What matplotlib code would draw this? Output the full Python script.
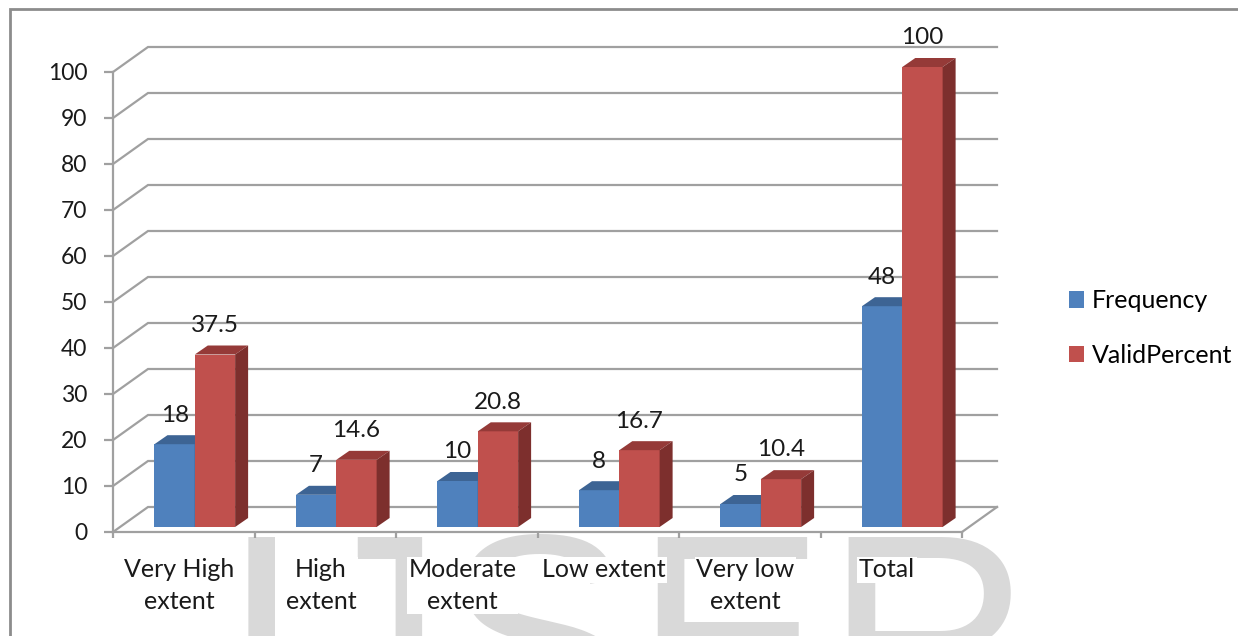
import matplotlib
matplotlib.use("Agg")
import matplotlib.pyplot as plt
from matplotlib.patches import Polygon, Rectangle, Patch
import numpy as np

plt.rcParams['font.family'] = ['Lato', 'DejaVu Sans']

# data
categories = ["Very High\nextent", "High\nextent", "Moderate\nextent",
              "Low extent", "Very low\nextent", "Total"]
frequency = [18, 7, 10, 8, 5, 48]
valid_percent = [37.5, 14.6, 20.8, 16.7, 10.4, 100]
freq_labels = ["18", "7", "10", "8", "5", "48"]
pct_labels = ["37.5", "14.6", "20.8", "16.7", "10.4", "100"]

W, H = 1238, 636
fig = plt.figure(figsize=(W / 100, H / 100), dpi=100)

# plot area = front plane of the 3d box, in pixels
x0_px, x1_px = 113, 962
y0_px, y1_px = 532, 72
ax = fig.add_axes([x0_px / W, 1 - y0_px / H, (x1_px - x0_px) / W, (y0_px - y1_px) / H])
ax.set_xlim(0, 6)
ax.set_ylim(0, 100)
ax.set_facecolor('white')

px_x = 6 / (x1_px - x0_px)      # category units per pixel
px_y = 100 / (y0_px - y1_px)    # value units per pixel

# back wall offset
DX, DY = 35 * px_x, 25 * px_y
grid_col = '#a0a0a0'
for v in range(0, 101, 10):
    ax.plot([0, DX, 6 + DX], [v, v + DY, v + DY], color=grid_col, lw=1.6,
            clip_on=False, zorder=1, solid_joinstyle='miter')
ax.plot([6, 6 + DX], [0, DY], color=grid_col, lw=1.6, clip_on=False, zorder=1)

# bars with fake 3d faces
base = 5 * px_y
bw = 0.285
ddx, ddy = 13 * px_x, 9 * px_y
series = [
    (frequency, 0.293, '#4f81bd', '#3d6494', '#2f4f78', freq_labels),
    (valid_percent, 0.578, '#c0504d', '#953a38', '#7d2f2d', pct_labels),
]
for vals, off, front, top, side, labs in series:
    xs = np.arange(len(vals)) + off
    ax.bar(xs, vals, width=bw, bottom=base, align='edge', color=front,
           zorder=3, clip_on=False, linewidth=0)
    for x, v, lab in zip(xs, vals, labs):
        yt = base + v
        ax.add_patch(Polygon([(x, yt), (x + bw, yt), (x + bw + ddx, yt + ddy), (x + ddx, yt + ddy)],
                             closed=True, facecolor=top, edgecolor='none', zorder=3, clip_on=False))
        ax.add_patch(Polygon([(x + bw, base), (x + bw + ddx, base + ddy), (x + bw + ddx, yt + ddy), (x + bw, yt)],
                             closed=True, facecolor=side, edgecolor='none', zorder=3, clip_on=False))
        ax.annotate(lab, (x + bw / 2, yt), xytext=(0, 21), textcoords='offset points',
                    ha='center', va='center', fontsize=17.5, color='#1a1a1a', zorder=5,
                    annotation_clip=False)

# axes styling
for s in ['top', 'right']:
    ax.spines[s].set_visible(False)
for s in ['left', 'bottom']:
    ax.spines[s].set_color(grid_col)
    ax.spines[s].set_linewidth(1.6)
ax.set_yticks(range(0, 101, 10))
ax.tick_params(axis='y', length=6.5, width=1.6, color=grid_col, pad=12,
               labelsize=16.5, labelcolor='#1a1a1a')
ax.set_xticks(range(0, 7))
ax.set_xticklabels([])
ax.tick_params(axis='x', which='major', length=4.5, width=1.6, color=grid_col)
ax.set_xticks(np.arange(6) + 0.5 - 0.03, categories, minor=True)
ax.tick_params(axis='x', which='minor', length=0, pad=19, labelsize=18, labelcolor='#1a1a1a')
for lbl in ax.get_xticklabels(minor=True):
    lbl.set_verticalalignment('top')
    lbl.set_linespacing(1.45)
    lbl.set_bbox(dict(facecolor='white', edgecolor='none', pad=1))

# legend
handles = [Patch(facecolor='#4f81bd', label='Frequency'),
           Patch(facecolor='#c0504d', label='ValidPercent')]
fig.legend(handles=handles, loc='center left', bbox_to_anchor=(1056 / W, 1 - 328 / H),
           frameon=False, fontsize=18, handlelength=0.62, handleheight=0.62,
           handletextpad=0.3, labelspacing=1.25, borderpad=0)

# outer chart frame
fig.patches.append(Rectangle((10 / W, -0.1), 1.1, 1 - 9 / H + 0.1, transform=fig.transFigure,
                             fill=False, edgecolor='#8c8c8c', lw=2, zorder=0))

# watermark behind the chart
fig.text(222 / W, 1 - 734 / H, "IJSER", fontsize=206, color='#d9d9d9',
         family='Liberation Sans', ha='left', va='baseline', zorder=-1)

fig.savefig("out.png", dpi=100, facecolor='white')
